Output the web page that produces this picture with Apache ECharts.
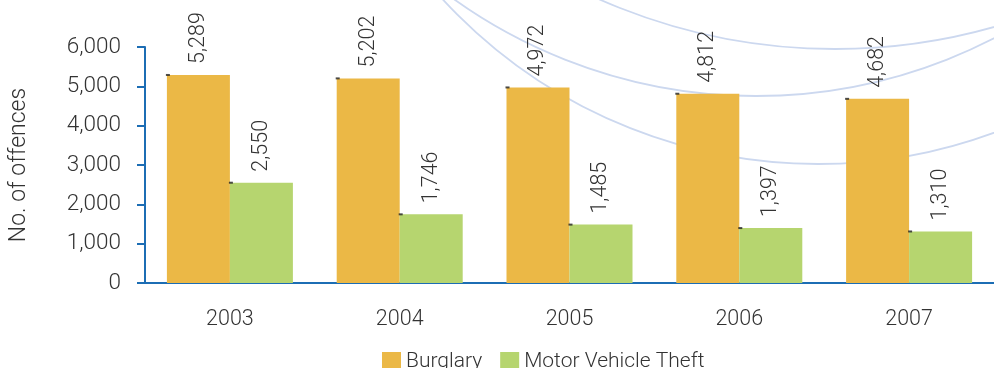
<!DOCTYPE html>
<html>
<head>
<meta charset="utf-8">
<script src="https://cdn.jsdelivr.net/npm/echarts@6/dist/echarts.min.js"></script>
<style>
  html, body { margin: 0; padding: 0; background: #fff; }
  #chart { width: 994px; height: 368px; }
</style>
</head>
<body>
<div id="chart"></div>
<script>
// Recorded offences by year
const years = ['2003', '2004', '2005', '2006', '2007'];
const burglary = [5289, 5202, 4972, 4812, 4682];
const motorVehicleTheft = [2550, 1746, 1485, 1397, 1310];
const seriesNames = ['Burglary', 'Motor Vehicle Theft'];
const yTicks = { min: 0, max: 6000, interval: 1000 };

const FONT = 'Roboto, "Liberation Sans", sans-serif';
const TEXT = '#333333';
const AXIS = '#1c6db4';
const ORANGE = '#ebb846';
const GREEN = '#b6d56f';
const BAR_W = 63;

const fmt = v => Number(v).toLocaleString('en-US');

const valueLabel = {
  show: true,
  position: 'top',
  distance: 11,
  rotate: 90,
  align: 'left',
  verticalAlign: 'middle',
  color: TEXT,
  fontFamily: FONT,
  fontWeight: 300,
  fontSize: 21.5,
  formatter: p => fmt(p.value)
};

// tiny corner marks on each bar's top-left edge
function cornerMarks(values, dx) {
  return {
    type: 'scatter',
    data: values,
    symbol: 'rect',
    symbolSize: [4, 2],
    symbolOffset: [dx, 0],
    itemStyle: { color: '#222' },
    silent: true,
    z: 5,
    tooltip: { show: false }
  };
}

// decorative background arcs
function ring(cx, cy, r) {
  return {
    type: 'circle',
    shape: { cx: cx, cy: cy, r: r },
    style: { fill: 'none', stroke: '#ccd8ef', lineWidth: 1.8 },
    silent: true,
    z: -10
  };
}

const chart = echarts.init(document.getElementById('chart'), null, { renderer: 'canvas' });
chart.setOption({
  animation: false,
  backgroundColor: '#fff',
  graphic: [ring(818, -346, 510), ring(756, -423, 519), ring(835, -535, 584)],
  grid: { left: 143, right: 0, top: 47, bottom: 85, containLabel: false },
  legend: {
    data: seriesNames,
    left: 377,
    top: 346,
    itemWidth: 19,
    itemHeight: 19,
    itemGap: 18,
    icon: 'rect',
    textStyle: { color: TEXT, fontFamily: FONT, fontWeight: 300, fontSize: 21 }
  },
  xAxis: {
    type: 'category',
    data: years,
    axisLine: { lineStyle: { color: AXIS, width: 2 } },
    axisTick: { alignWithLabel: false, length: 7, lineStyle: { color: AXIS, width: 2 } },
    axisLabel: { color: TEXT, fontFamily: FONT, fontWeight: 300, fontSize: 21.5, margin: 26 }
  },
  yAxis: {
    type: 'value',
    min: yTicks.min,
    max: yTicks.max,
    interval: yTicks.interval,
    name: 'No. of offences',
    nameLocation: 'middle',
    nameGap: 114,
    nameTextStyle: { color: TEXT, fontFamily: FONT, fontWeight: 300, fontSize: 23 },
    axisLine: { show: true, lineStyle: { color: AXIS, width: 2 } },
    axisTick: { show: true, length: 8, lineStyle: { color: AXIS, width: 2 } },
    splitLine: { show: false },
    axisLabel: { color: TEXT, fontFamily: FONT, fontWeight: 300, fontSize: 22.5, margin: 24, formatter: fmt }
  },
  series: [
    {
      name: seriesNames[0],
      type: 'bar',
      data: burglary,
      barWidth: BAR_W,
      barGap: '0%',
      itemStyle: { color: ORANGE },
      label: valueLabel
    },
    {
      name: seriesNames[1],
      type: 'bar',
      data: motorVehicleTheft,
      barWidth: BAR_W,
      barGap: '0%',
      itemStyle: { color: GREEN },
      label: valueLabel
    },
    cornerMarks(burglary, -BAR_W + 1),
    cornerMarks(motorVehicleTheft, 1)
  ]
});
</script>
</body>
</html>
